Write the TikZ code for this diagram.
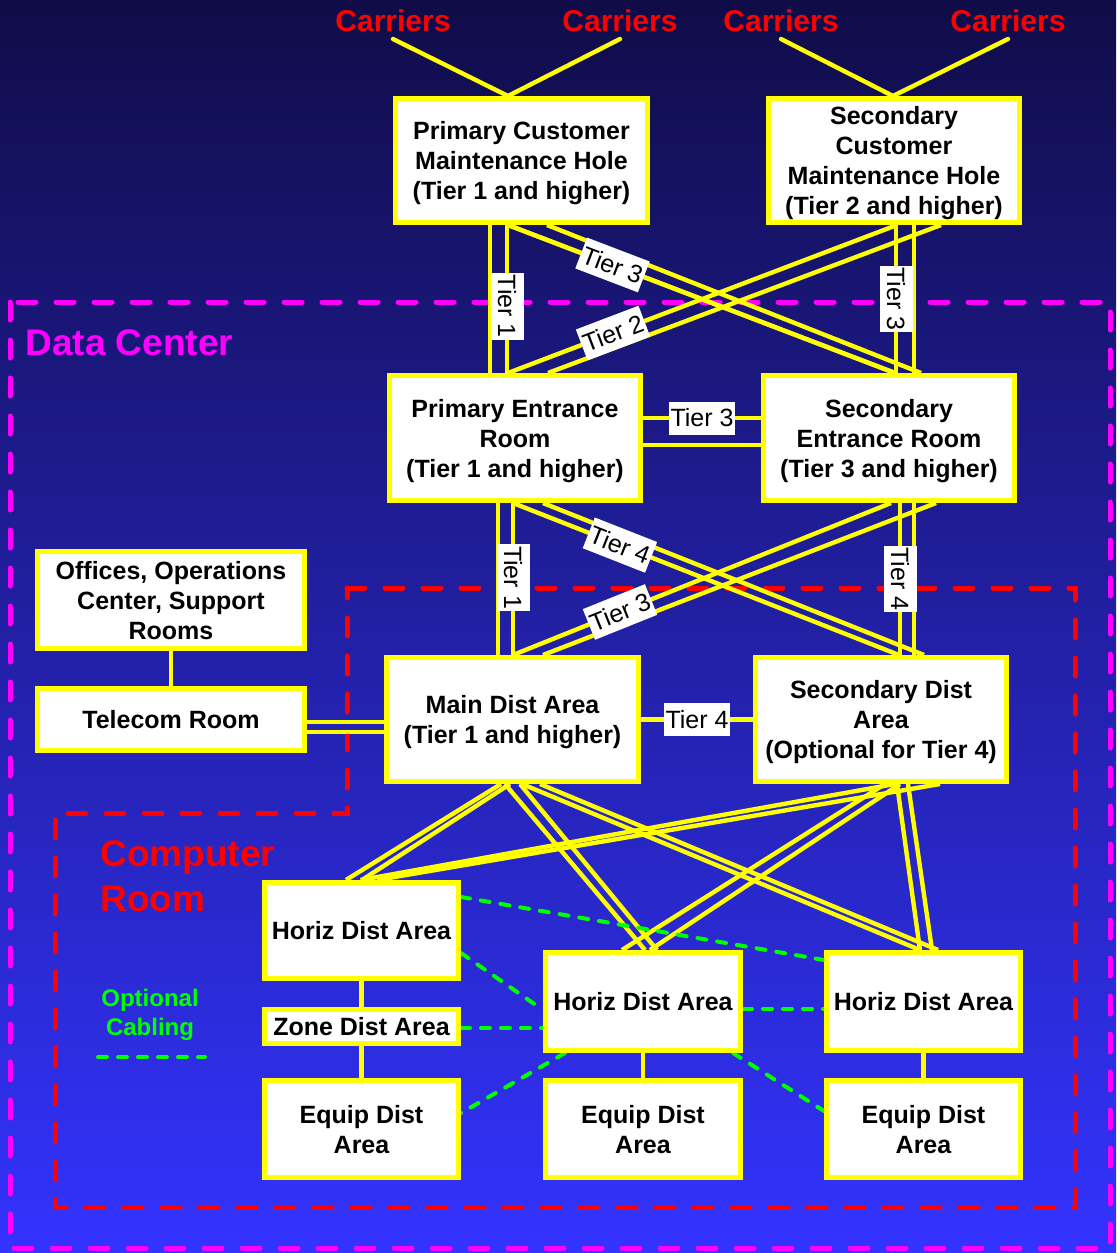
\documentclass[tikz,border=0pt]{standalone}
\usepackage{fontspec}
\setmainfont{Liberation Sans}
\usetikzlibrary{calc}
\pgfdeclarelayer{bg}
\pgfdeclarelayer{frames}
\pgfdeclarelayer{lines}
\pgfsetlayers{bg,frames,lines,main}
\definecolor{bgtop}{RGB}{16,12,72}
\definecolor{bgbot}{RGB}{51,51,255}
\definecolor{ylw}{RGB}{255,255,0}
\definecolor{mag}{RGB}{255,0,255}
\definecolor{rd}{RGB}{255,0,0}
\definecolor{grn}{RGB}{0,255,0}
\begin{document}
\begin{tikzpicture}[x=0.5pt,y=-0.5pt,
  box/.style={draw=ylw, line width=2.5pt, fill=white, text=black,
    font=\bfseries\fontsize{12.5}{15}\selectfont, align=center, inner sep=0pt, text depth=0pt},
  tier/.style={fill=white, text=black, font=\fontsize{12.5}{14}\selectfont,
    inner xsep=1pt, inner ysep=0pt, minimum height=16.5pt, sloped},
  yl/.style={draw=ylw, line width=2.2pt},
  opt/.style={draw=grn, line width=2pt, line cap=round, dash pattern=on 4.5pt off 5.5pt},
  frame/.style={line width=2.5pt, line cap=round, dash pattern=on 9pt off 10pt},
  carr/.style={text=rd, font=\bfseries\fontsize{15}{18}\selectfont, inner sep=0pt},
  big/.style={font=\bfseries\fontsize{18.5}{22.5}\selectfont, inner sep=0pt}
]
\useasboundingbox (0,0) rectangle (1116,1253);
\begin{pgfonlayer}{bg}
  \shade[top color=bgtop, bottom color=bgbot] (0,0) rectangle (1116,1253);
\end{pgfonlayer}

% carriers
\node[carr, anchor=base] (c1) at (393,31) {Carriers};
\node[carr, anchor=base] (c2) at (620,31) {Carriers};
\node[carr, anchor=base] (c3) at (781,31) {Carriers};
\node[carr, anchor=base] (c4) at (1008,31) {Carriers};

% boxes
\node[box, minimum width=126pt, minimum height=62pt] (pcmh) at (521.5,160.5) {Primary Customer\\Maintenance Hole\\(Tier 1 and higher)};
\node[box, minimum width=125.5pt, minimum height=62pt] (scmh) at (894,160.5) {Secondary\\Customer\\Maintenance Hole\\(Tier 2 and higher)};
\node[box, minimum width=125.5pt, minimum height=62.5pt] (per) at (515,438) {Primary Entrance\\Room\\(Tier 1 and higher)};
\node[box, minimum width=125.5pt, minimum height=62.5pt] (ser) at (889,438) {Secondary\\Entrance Room\\(Tier 3 and higher)};
\node[box, minimum width=133.5pt, minimum height=48.5pt] (off) at (171,600) {Offices, Operations\\Center, Support\\Rooms};
\node[box, minimum width=133.5pt, minimum height=31pt] (tel) at (171,719.5) {Telecom Room};
\node[box, minimum width=126pt, minimum height=62pt] (mda) at (512.5,719.5) {Main Dist Area\\(Tier 1 and higher)};
\node[box, minimum width=125.5pt, minimum height=62pt] (sda) at (881,719.5) {Secondary Dist\\Area\\(Optional for Tier 4)};
\node[box, minimum width=97pt, minimum height=48pt] (hdl) at (361.5,930.5) {Horiz Dist Area};
\node[box, minimum width=97pt, minimum height=17pt] (zda) at (361.5,1026.5) {Zone Dist Area};
\node[box, minimum width=97pt, minimum height=48.5pt] (edl) at (361.5,1129) {Equip Dist\\Area};
\node[box, minimum width=97.5pt, minimum height=49pt] (hdm) at (643,1001.5) {Horiz Dist Area};
\node[box, minimum width=97pt, minimum height=49pt] (hdr) at (923.5,1001.5) {Horiz Dist Area};
\node[box, minimum width=97.5pt, minimum height=48.5pt] (edm) at (643,1129) {Equip Dist\\Area};
\node[box, minimum width=97pt, minimum height=48.5pt] (edr) at (923.5,1129) {Equip Dist\\Area};

% labels
\node[big, text=mag, anchor=base west] (dc) at (25,355) {Data Center};
\node[big, text=rd, anchor=west, align=left] (cr) at (100,876) {Computer\\Room};
\node[text=grn, font=\bfseries\fontsize{12}{14.5}\selectfont, align=center, inner sep=0pt] (oc) at (150,1015) {Optional\\Cabling};
\coordinate (lg1) at (98,1057);
\coordinate (lg2) at (205,1057);

% frames
\begin{pgfonlayer}{frames}
  \draw[frame, draw=mag] (10,302) rectangle (1110,1248);
  \draw[frame, draw=rd] (347,588) -- (1075,588) -- (1075,1207) -- (55,1207) -- (55,813) -- (347,813) -- cycle;
\end{pgfonlayer}

\begin{pgfonlayer}{lines}
  % carriers
  \draw[yl, line cap=round] ($(c1.base)+(0,8)$) -- ($(pcmh.north)+(-13.5,0)$);
  \draw[yl, line cap=round] ($(c2.base)+(0,8)$) -- ($(pcmh.north)+(-13.5,0)$);
  \draw[yl, line cap=round] ($(c3.base)+(0,8)$) -- ($(scmh.north)+(-1,0)$);
  \draw[yl, line cap=round] ($(c4.base)+(0,8)$) -- ($(scmh.north)+(-1,0)$);

  % maintenance holes to entrance rooms
  \draw[yl] ($(pcmh.south)+(-31.5,0)$) -- ($(per.north)+(-25,0)$);
  \draw[yl] ($(pcmh.south)+(-13.5,0)$) -- ($(ser.north)+(6,0)$);
  \draw[yl] ($(pcmh.south)+(25.5,0)$) -- ($(ser.north)+(32,0)$);
  \draw[yl] ($(scmh.south)+(47,0)$) -- ($(per.north)+(33,0)$);
  \draw[yl] ($(scmh.south)+(20,0)$) -- ($(ser.north)+(25,0)$);
  \draw[yl] ($(per.east)+(0,7)$) -- ($(ser.west)+(0,7)$);
  % entrance rooms to dist areas
  \draw[yl] ($(per.south)+(-17,0)$) -- ($(mda.north)+(-14.5,0)$);
  \draw[yl] ($(per.south)+(28,0)$) -- ($(sda.north)+(43,0)$);
  \draw[yl] ($(ser.south)+(47,0)$) -- ($(mda.north)+(30.5,0)$);
  \draw[yl] ($(ser.south)+(25,0)$) -- ($(sda.north)+(33,0)$);
  % telecom
  \draw[yl] (off.south) -- (tel.north);
  \draw[yl] ($(tel.east)+(0,2.5)$) -- ($(mda.west)+(0,2.5)$);
  \draw[yl] ($(tel.east)+(0,12.5)$) -- ($(mda.west)+(0,12.5)$);
  % dist areas to horizontal dist areas
  \draw[yl] ($(mda.south)+(-11.5,0)$) -- ($(hdl.north)+(-15.5,0)$);
  \draw[yl] ($(mda.south)+(-2.5,0)$) -- ($(hdl.north)+(0.5,0)$);
  \draw[yl] ($(mda.south)+(-7.5,0)$) -- ($(hdm.north)+(2,0)$);
  \draw[yl] ($(mda.south)+(7.5,0)$) -- ($(hdm.north)+(14,0)$);
  \draw[yl] ($(mda.south)+(9.5,0)$) -- ($(hdr.north)+(-3.5,0)$);
  \draw[yl] ($(mda.south)+(27.5,0)$) -- ($(hdr.north)+(14.5,0)$);
  \draw[yl] ($(sda.south)+(14,0)$) -- ($(hdl.north)+(-1,0)$);
  \draw[yl] ($(sda.south)+(59,0)$) -- ($(hdl.north)+(15.5,0)$);
  \draw[yl] ($(sda.south)+(4,0)$) -- ($(hdm.north)+(-21,0)$);
  \draw[yl] ($(sda.south)+(19,0)$) -- ($(hdm.north)+(7,0)$);
  \draw[yl] ($(sda.south)+(16,0)$) -- ($(hdr.north)+(-3.5,0)$);
  \draw[yl] ($(sda.south)+(27,0)$) -- ($(hdr.north)+(8.5,0)$);
  % computer room verticals
  \draw[yl] (hdl.south) -- (zda.north);
  \draw[yl] (zda.south) -- (edl.north);
  \draw[yl] (hdm.south) -- (edm.north);
  \draw[yl] (hdr.south) -- (edr.north);

  % labelled connectors
  \draw[yl] ($(pcmh.south)+(-14.5,0)$) -- node[tier, pos=.55] {Tier 1} ($(per.north)+(-8,0)$);
  \draw[yl] ($(pcmh.south)+(-13.5,0)$) -- node[tier, pos=.27] {Tier 3} ($(ser.north)+(6,0)$);
  \draw[yl] ($(scmh.south)+(3,0)$) -- node[tier, pos=.73] {Tier 2} ($(per.north)+(-7,0)$);
  \draw[yl] ($(scmh.south)+(2,0)$) -- node[tier, pos=.5] {Tier 3} ($(ser.north)+(7,0)$);
  \draw[yl] ($(per.east)+(0,-20)$) -- node[tier, pos=.5] {Tier 3} ($(ser.west)+(0,-20)$);
  \draw[yl] ($(per.south)+(-2,0)$) -- node[tier, pos=.49] {Tier 1} ($(mda.north)+(0.5,0)$);
  \draw[yl] ($(per.south)+(-2,0)$) -- node[tier, pos=.277] {Tier 4} ($(sda.north)+(18,0)$);
  \draw[yl] ($(ser.south)+(2,0)$) -- node[tier, pos=.717] {Tier 3} ($(mda.north)+(0.5,0)$);
  \draw[yl] ($(ser.south)+(11,0)$) -- node[tier, pos=.5] {Tier 4} ($(sda.north)+(19,0)$);
  \draw[yl] (mda.east) -- node[tier, pos=.5] {Tier 4} (sda.west);

  % optional cabling
  \draw[opt] ($(hdl.east)+(0,-33.5)$) -- ($(hdr.west)+(0,-41.5)$);
  \draw[opt] ($(hdl.east)+(0,22.5)$) -- ($(hdm.west)+(0,8.5)$);
  \draw[opt] ($(zda.east)+(0,1.5)$) -- ($(hdm.west)+(0,26.5)$);
  \draw[opt] ($(hdm.east)+(0,7.5)$) -- ($(hdr.west)+(0,7.5)$);
  \draw[opt] ($(hdm.south)+(-78,0)$) -- ($(edl.east)+(0,-16)$);
  \draw[opt] ($(hdm.south)+(90,0)$) -- ($(edr.west)+(0,-18)$);
  \draw[opt] (lg1) -- (lg2);
\end{pgfonlayer}
\end{tikzpicture}
\end{document}
